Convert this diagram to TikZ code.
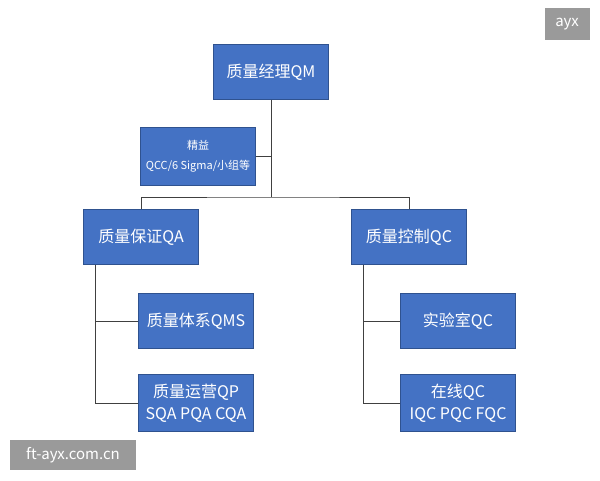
\documentclass[tikz,border=0pt]{standalone}
\usepackage{fontspec}
\setmainfont{Noto Sans CJK SC}
\definecolor{boxblue}{HTML}{4472C4}
\definecolor{boxedge}{HTML}{2F528F}
\definecolor{linegray}{HTML}{404040}
\definecolor{wm}{HTML}{9A9A9A}
\begin{document}
\begin{tikzpicture}[x=1pt,y=-1pt,
  box/.style={draw=boxedge,line width=0.8pt,fill=boxblue,text=white,minimum width=115pt,minimum height=55pt,inner sep=1pt,align=center,font=\fontsize{16}{22}\selectfont},
  smallbox/.style={box,minimum height=58pt,font=\fontsize{11}{20}\selectfont},
  conn/.style={draw=linegray,line width=1pt},
  wmark/.style={fill=wm,text=white,inner sep=0pt,font=\fontsize{15}{18}\selectfont}]
\useasboundingbox (0,0) rectangle (600,480);
\fill[white] (0,0) rectangle (600,480);
\node[box] (qm) at (271,72) {质量经理QM};
\node[smallbox] (lean) at (198,156) {精益\\QCC/6 Sigma/小组等};
\node[box] (qa) at (141,237) {质量保证QA};
\node[box] (qc) at (409,237) {质量控制QC};
\node[box] (qms) at (196,321) {质量体系QMS};
\node[box,minimum height=57pt] (qp) at (196,403) {质量运营QP\\SQA PQA CQA};
\node[box] (lab) at (458,321) {实验室QC};
\node[box,minimum height=57pt] (onl) at (458,403) {在线QC\\IQC PQC FQC};
\coordinate (j) at (271,197);
\draw[conn] (qm.south) -- (j);
\draw[conn] (lean.east) -- (lean.east -| j);
\draw[conn] (qa.north) |- (j) -| (qc.north);
\draw[conn] (qa.south -| 95,0) |- (qms.west);
\draw[conn] (qa.south -| 95,0) |- (qp.west);
\draw[conn] (qc.south -| 363,0) |- (lab.west);
\draw[conn] (qc.south -| 363,0) |- (onl.west);
\node[wmark,minimum width=45pt,minimum height=32pt] (w1) at (567,24) {ayx};
\node[wmark,minimum width=126pt,minimum height=30pt] (w2) at (73,455) {ft-ayx.com.cn};
\end{tikzpicture}
\end{document}
